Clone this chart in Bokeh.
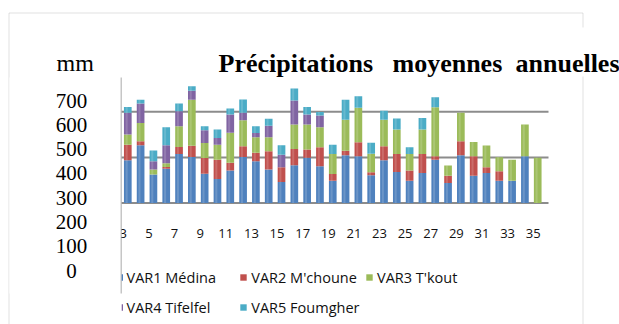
from bokeh.plotting import figure
from bokeh.models import (ColumnDataSource, Range1d, Label, BoxAnnotation, Legend, LegendItem)
from bokeh.core.properties import value
from bokeh.embed import file_html
from bokeh.resources import INLINE

# ---- data (mm) ----
years = list(range(3, 36))
medina   = [281, 380, 187, 226, 323, 303, 193, 158, 213, 303, 275, 220, 138, 248, 297, 242, 147,
            314, 308, 183, 281, 204, 147, 198, 285, 132, 314, 180, 198, 147, 147, 308, 0]
mchoune  = [103, 26, 0, 11, 46, 74, 103, 127, 51, 71, 55, 121, 97, 108, 55, 125, 44,
            30, 92, 20, 92, 119, 66, 125, 22, 48, 92, 128, 38, 62, 0, 0, 0]
tkout    = [66, 121, 33, 24, 136, 303, 99, 99, 198, 171, 103, 92, 0, 160, 165, 132, 132,
            204, 226, 121, 175, 160, 110, 160, 323, 66, 187, 94, 142, 92, 138, 208, 297]
tifelfel = [143, 127, 55, 119, 99, 59, 84, 44, 121, 48, 28, 76, 83, 158, 66, 76, 0,
            0, 0, 0, 0, 0, 0, 0, 0, 0, 0, 0, 0, 0, 0, 0, 0]
foumgher = [38, 26, 70, 119, 50, 29, 26, 55, 38, 88, 44, 46, 62, 79, 49, 24, 61,
            132, 77, 73, 59, 73, 44, 77, 66, 0, 0, 0, 0, 0, 0, 0, 0]

series = ["medina", "mchoune", "tkout", "tifelfel", "foumgher"]
names = ["VAR1 Médina", "VAR2 M'choune", "VAR3 T'kout", "VAR4 Tifelfel", "VAR5 Foumgher"]
colors = ["#4F81BD", "#C0504D", "#9BBB59", "#8064A2", "#4BACC6"]
grid_ticks = [0, 300, 600]
x_labels = years[::2]
mm_labels = [700, 600, 500, 400, 300, 200, 100, 0]

# ---- page geometry (pixels from the top-left corner) ----
W, H = 619, 324
PX_PER_YEAR = 12.81          # horizontal pitch of the bars
FIRST_BAR_PX = 127.3         # centre of the first bar
PX_PER_MM = 0.152            # vertical scale
BASE_PX = 202.5              # zero line
AREA_L, AREA_R = 121, 548    # left / right end of the gridlines

x_start = years[0] - FIRST_BAR_PX / PX_PER_YEAR
x_end = x_start + W / PX_PER_YEAR
y_start = -(H - BASE_PX) / PX_PER_MM
y_end = BASE_PX / PX_PER_MM


def px_to_x(px):
    return x_start + px / PX_PER_YEAR


def py_to_y(py):
    return (BASE_PX - py) / PX_PER_MM


def sy(py):
    return H - py


def screen_box(left, right, top, bottom, **kw):
    return BoxAnnotation(left=left, right=right, top=sy(top), bottom=sy(bottom),
                         left_units="screen", right_units="screen",
                         top_units="screen", bottom_units="screen", **kw)


p = figure(width=W, height=H, output_backend="svg", toolbar_location=None, title=None,
           x_range=Range1d(x_start, x_end), y_range=Range1d(y_start, y_end),
           x_axis_type=None, y_axis_type=None, min_border=0,
           outline_line_color=None, background_fill_color="white",
           border_fill_color="white")

# horizontal gridlines across the plot area
p.segment(x0=[px_to_x(AREA_L)] * len(grid_ticks), x1=[px_to_x(AREA_R)] * len(grid_ticks),
          y0=grid_ticks, y1=grid_ticks, line_color="#8c8c8c", line_width=2)

src = ColumnDataSource(dict(year=years, medina=medina, mchoune=mchoune, tkout=tkout,
                            tifelfel=tifelfel, foumgher=foumgher))
rs = p.vbar_stack(series, x="year", width=0.6, color=colors, line_color=None, source=src)

# soft highlight down each cylinder
totals = [sum(t) for t in zip(medina, mchoune, tkout, tifelfel, foumgher)]
p.vbar(x=[v - 0.09 for v in years], top=totals, bottom=0, width=0.16,
       fill_color="white", fill_alpha=0.16, line_color=None)

# category labels, every other year, set slightly left of the bars
LABEL_SHIFT = 4.5 / PX_PER_YEAR
p.text(x=[v - LABEL_SHIFT for v in x_labels], y=[py_to_y(233)] * len(x_labels),
       text=[str(v) for v in x_labels], text_align="center", text_baseline="middle",
       text_font=value("Open Sans"), text_font_size="13px", text_color="#111111")

# outer frame of the chart
p.add_layout(screen_box(8.5, 582.5, 12.5, 340, fill_alpha=0,
                        line_color="#9a9a9a", line_width=1))

# legend: three columns; the first column's keys are mostly hidden by the text box,
# so only their right edge shows
legend_cols = [[0, 3], [1, 4], [2]]
legend_x = [120.5, 239.3, 365]
glyph_w = [2, 8, 8]
standoff = [4, 4, 4]
ROW_TOP, ROW_H, ROW_GAP = 267, 20, 10
for idx, lx, gw, so in zip(legend_cols, legend_x, glyph_w, standoff):
    n = len(idx)
    bottom = ROW_TOP + n * ROW_H + (n - 1) * ROW_GAP
    lg = Legend(items=[LegendItem(label=names[i], renderers=[rs[i]]) for i in idx],
                location=(lx, sy(bottom)), orientation="vertical",
                border_line_color=None, background_fill_alpha=0,
                padding=0, margin=0, spacing=ROW_GAP,
                glyph_width=gw, glyph_height=8, label_height=ROW_H, label_standoff=so,
                label_text_font="Open Sans", label_text_font_size="14.5px",
                label_text_color="#111111")
    p.add_layout(lg)

# white text box holding the mm scale
p.add_layout(screen_box(9, 120.6, 77, 293, fill_color="white", fill_alpha=1,
                        line_color=None, level="overlay"))
p.add_layout(screen_box(120.2, 121.1, 77, 293, fill_color="#a0a0a0", fill_alpha=1,
                        line_color=None, level="overlay"))

# title background
p.add_layout(screen_box(200, 640, 27, 76, fill_color="white", fill_alpha=1,
                        line_color=None, level="overlay"))

for i, v in enumerate(mm_labels):
    p.add_layout(Label(x=71, y=sy(100 + 24.3 * i), text=str(v),
                       x_units="screen", y_units="screen",
                       text_align="center", text_baseline="middle",
                       text_font="Liberation Serif", text_font_size="21px",
                       text_color="#000000", level="overlay"))

p.add_layout(Label(x=56, y=sy(62), text="mm", x_units="screen", y_units="screen",
                   text_align="left", text_baseline="alphabetic",
                   text_font="Liberation Serif", text_font_size="24px",
                   text_color="#000000", level="overlay"))

for word, wx in zip(["Précipitations", "moyennes", "annuelles"], [218, 392, 515]):
    p.add_layout(Label(x=wx, y=sy(63), text=word, x_units="screen", y_units="screen",
                       text_align="left", text_baseline="alphabetic",
                       text_font="Liberation Serif", text_font_style="bold",
                       text_font_size="26px", text_color="#000000", level="overlay"))

open("out.html", "w").write(file_html(p, INLINE))
